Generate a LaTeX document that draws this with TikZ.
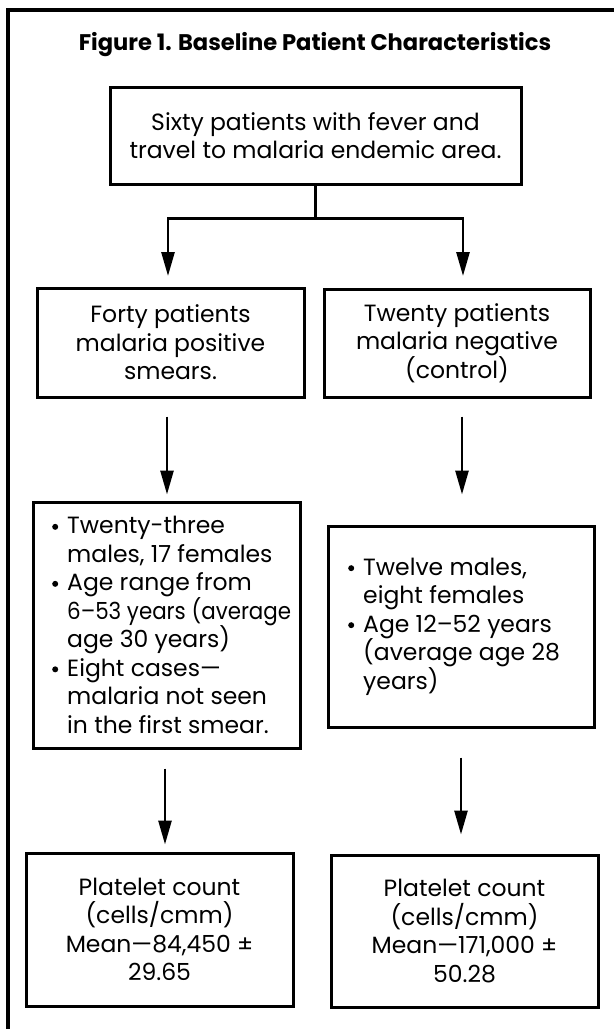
\documentclass[tikz,border=0pt]{standalone}
\usepackage{fontspec}
\setmainfont{Poppins}
\usetikzlibrary{arrows.meta}
\newcommand\bul{\makebox[15pt][l]{\raisebox{4pt}{\tikz\fill (0,0) circle (3pt);}}}
\newcommand\ind{\hspace*{15pt}}
\begin{document}
\begin{tikzpicture}[x=1pt,y=-1pt,
  txt/.style={font=\fontsize{23.5}{28.5}\selectfont},
  box/.style={draw, line width=3pt, inner sep=0pt, align=center, txt},
  lst/.style={inner sep=0pt, align=left, anchor=west, txt},
  conn/.style={line width=2.7pt},
  arr/.style={line width=2.7pt, -{Triangle[length=24pt,width=13pt]}}]
\useasboundingbox (0,0) rectangle (614,1029);
\draw[line width=3.5pt] (8,1029) -- (8,10) -- (614,10);
\node[anchor=base, font=\bfseries\fontsize{22.6}{26}\selectfont] (title) at (315,50) {Figure 1. Baseline Patient Characteristics};
\node[box, minimum width=411pt, minimum height=97pt] (top) at (315.5,135.5) {Sixty patients with fever and\\travel to malaria endemic area.};
\node[box, minimum width=267pt, minimum height=109pt] (L2a) at (170.5,342.5) {Forty patients\\malaria positive\\smears.};
\node[box, minimum width=266pt, minimum height=108pt] (L2b) at (457,343) {Twenty patients\\malaria negative\\(control)};
\node[box, minimum width=267pt, minimum height=246pt] (L3a) at (166.5,625) {};
\node[lst] (L3atext) at (52,625) {\bul Twenty-three\\ \ind males, 17 females\\ \bul Age range from\\ \ind \scalebox{0.91}[1]{6–53 years (average}\\ \ind age 30 years)\\ \bul Eight cases—\\ \ind malaria not seen\\ \ind in the first smear.};
\node[box, minimum width=266pt, minimum height=201pt] (L3b) at (461,626.5) {};
\node[lst] (L3btext) at (348,626.5) {\bul Twelve males,\\ \ind eight females\\ \bul Age 12–52 years\\ \ind (average age 28\\ \ind years)};
\node[box, minimum width=267pt, minimum height=153pt] (L4a) at (159.5,929.5) {Platelet count\\(cells/cmm)\\Mean—84,450 ±\\29.65};
\node[box, minimum width=267pt, minimum height=152pt] (L4b) at (464.5,931) {Platelet count\\(cells/cmm)\\Mean—171,000 ±\\50.28};
\path (top.south) ++(0,33) coordinate (sm);
\coordinate (tl) at (168,276);
\coordinate (tr) at (463,276);
\draw[conn] (top.south) -- (sm);
\draw[arr] (sm) -| (tl);
\draw[arr] (sm) -| (tr);
\draw[arr] (L2a.south) ++(-3.5,18) -- ++(0,78);
\draw[arr] (L2b.south) ++(5,18) -- ++(0,78);
\draw[arr] (L3a.south) ++(-1.5,19) -- ++(0,76);
\draw[arr] (L3b.south) ++(0,29) -- ++(0,77);
\end{tikzpicture}
\end{document}
